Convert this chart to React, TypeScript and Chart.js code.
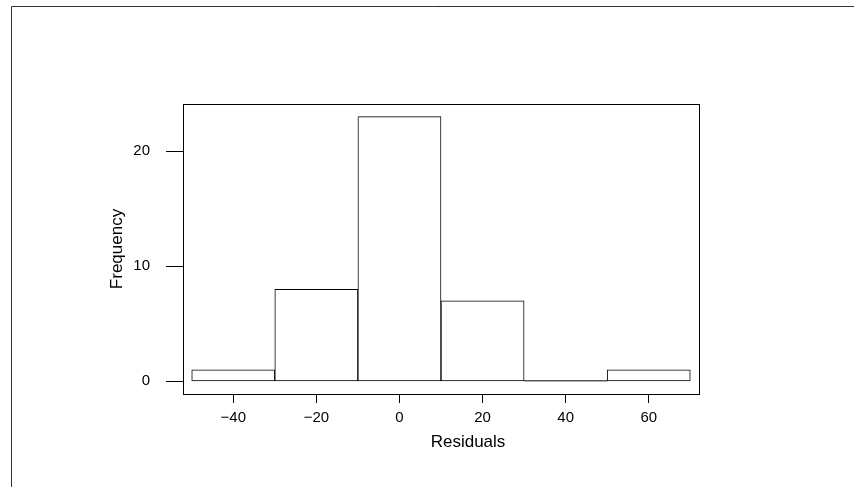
import React, { useEffect, useRef } from "react";
import { Chart, registerables } from "chart.js";

Chart.register(...registerables);

const binCenters = [-40, -20, 0, 20, 40, 60];
const binWidth = 20;
const counts = [1, 8, 23, 7, 0, 1];
const xTicks = [-40, -20, 0, 20, 40, 60];
const yTicks = [0, 10, 20];
const xTitle = "Residuals";
const yTitle = "Frequency";

const FONT = "'Liberation Sans', Arial, sans-serif";
const fmt = (v: number) => (v < 0 ? "\u2212" + Math.abs(v) : String(v));

const framePlugin = {
  id: "frames",
  afterDatasetsDraw(chart: any) {
    const { ctx } = chart;
    const meta = chart.getDatasetMeta(0);
    ctx.save();
    ctx.strokeStyle = "#000";
    ctx.lineWidth = 1;
    meta.data.forEach((bar: any) => {
      const p = bar.getProps(["x", "y", "base", "width"], true);
      if (Math.abs(p.base - p.y) > 1) return;
      const y = p.base - 0.5;
      ctx.beginPath();
      ctx.moveTo(p.x - p.width / 2, y);
      ctx.lineTo(p.x + p.width / 2, y);
      ctx.stroke();
    });
    ctx.restore();
  },
  afterDraw(chart: any) {
    const { ctx, chartArea } = chart;
    ctx.save();
    ctx.strokeStyle = "#000";
    ctx.lineWidth = 1;
    ctx.strokeRect(
      Math.round(chartArea.left) + 0.5,
      Math.round(chartArea.top) + 0.5,
      Math.round(chartArea.right - chartArea.left),
      Math.round(chartArea.bottom - chartArea.top)
    );
    ctx.strokeStyle = "#333";
    ctx.beginPath();
    ctx.moveTo(11.5, 900);
    ctx.lineTo(11.5, 6.5);
    ctx.lineTo(900, 6.5);
    ctx.stroke();
    ctx.fillStyle = "#000";
    ctx.font = `17px ${FONT}`;
    ctx.textAlign = "center";
    ctx.textBaseline = "middle";
    ctx.fillText(xTitle, (chartArea.left + chartArea.right) / 2 + 27, chartArea.bottom + 48);
    ctx.restore();
  },
};

export default function App() {
  const ref = useRef<HTMLCanvasElement>(null);
  useEffect(() => {
    const el = ref.current!;
    const chart = new Chart(el, {
      type: "bar",
      data: {
        datasets: [
          {
            data: binCenters.map((c, i) => ({ x: c, y: counts[i] })),
            backgroundColor: "#fff",
            borderColor: "#000",
            borderWidth: 1,
            borderSkipped: false,
            barPercentage: 1,
            categoryPercentage: 1,
          },
        ],
      },
      options: {
        responsive: false,
        animation: false,
        events: [],
        layout: { padding: { top: 104, right: 155, left: 0, bottom: 0 } },
        plugins: { legend: { display: false }, tooltip: { enabled: false } },
        scales: {
          x: {
            type: "linear",
            min: -52.1,
            max: 72.1,
            offset: false,
            afterBuildTicks: (s: any) => {
              s.ticks = xTicks.map((v) => ({ value: v }));
            },
            afterFit: (s: any) => {
              s.height = 93;
            },
            grid: {
              display: true,
              offset: false,
              drawOnChartArea: false,
              drawTicks: true,
              tickLength: 9,
              color: "#000",
            },
            border: { display: false },
            ticks: {
              color: "#000",
              font: { family: FONT, size: 15 },
              padding: 6,
              maxRotation: 0,
              autoSkip: false,
              callback: (v: any) => fmt(Number(v)),
            },
            title: { display: false, text: xTitle },
          },
          y: {
            min: -1.1,
            max: 24.1,
            afterBuildTicks: (s: any) => {
              s.ticks = yTicks.map((v) => ({ value: v }));
            },
            afterFit: (s: any) => {
              s.width = 183;
            },
            grid: {
              display: true,
              drawOnChartArea: false,
              drawTicks: true,
              tickLength: 17,
              color: "#000",
            },
            border: { display: false },
            ticks: {
              color: "#000",
              font: { family: FONT, size: 15 },
              padding: 16,
              autoSkip: false,
              callback: (v: any) => fmt(Number(v)),
            },
            title: {
              display: true,
              text: yTitle,
              color: "#000",
              font: { family: FONT, size: 17 },
              padding: { top: 107, bottom: 0 },
            },
          },
        },
      },
      plugins: [framePlugin],
    } as any);
    return () => chart.destroy();
  }, []);
  return (
    <div style={{ position: "fixed", left: 0, top: 0, width: 854, height: 487, overflow: "hidden", background: "#fff" }}>
      <canvas ref={ref} width={854} height={487} style={{ display: "block" }} />
    </div>
  );
}
